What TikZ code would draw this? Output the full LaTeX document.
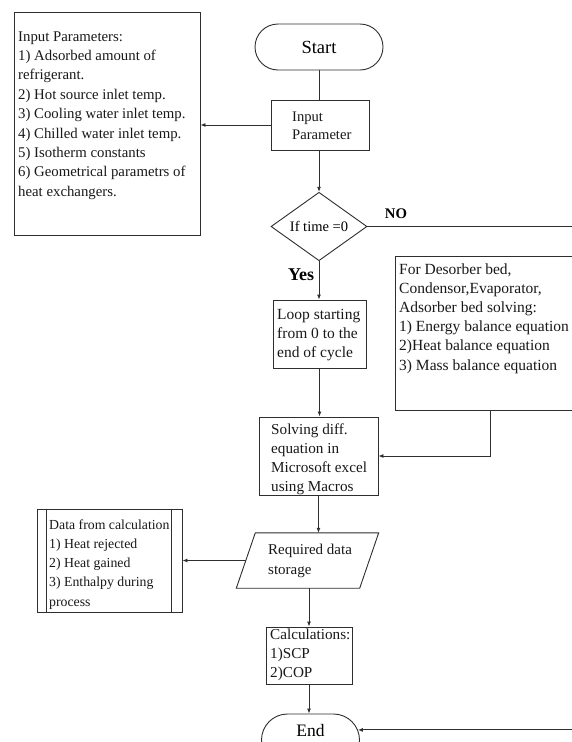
\documentclass[tikz,border=0pt]{standalone}
\usepackage{fontspec}
\setmainfont{Liberation Serif}
\usetikzlibrary{arrows.meta,shapes.geometric,shapes.misc,calc}
\newcommand{\mylines}[2]{\parbox[t]{#1}{\raggedright #2}}
\definecolor{linec}{gray}{0.18}
\begin{document}
\begin{tikzpicture}[x=1pt,y=-1pt,
  box/.style={draw=linec, line width=0.9pt, rectangle, inner sep=0pt},
  term/.style={draw=linec, line width=0.9pt, rounded rectangle, inner sep=0pt},
  txt/.style={inner sep=0pt, anchor=base west, text=black!90},
  arr/.style={draw=linec, line width=0.9pt, -{Latex[length=5pt,width=4pt]}},
  ln/.style={draw=linec, line width=0.9pt}]
\useasboundingbox (0,0) rectangle (572,742);
\fill[white] (0,0) rectangle (572,742);
\clip (0,0) rectangle (572,742);

% shapes
\node[box, minimum width=186pt, minimum height=223pt] (params) at (107,123.5) {};
\node[term, minimum width=128pt, minimum height=46pt, font=\fontsize{18.5}{22}\selectfont] (start) at (319,47) {Start};
\node[box, minimum width=98pt, minimum height=50pt] (inp) at (320,125) {};
\node[draw=linec, line width=0.9pt, diamond, inner sep=0pt, minimum width=96pt, minimum height=65pt, font=\fontsize{14.5}{17}\selectfont] (dia) at (319,226.5) {If time =0};
\node[box, minimum width=93pt, minimum height=68pt] (loop) at (319.5,334) {};
\node[box, minimum width=119pt, minimum height=78pt] (solve) at (318.5,456) {};
\node[box, minimum width=205pt, minimum height=154pt] (desorb) at (497.5,333) {};
\node[inner sep=0pt, minimum width=123pt, minimum height=55pt] (par) at (307.5,560.5) {};
\draw[ln] ($(par.north west)+(9.5,0)$) -- ($(par.north east)+(9.5,0)$) -- ($(par.south east)+(-9.5,0)$) -- ($(par.south west)+(-9.5,0)$) -- cycle;
\node[box, minimum width=145pt, minimum height=103pt] (data) at (109.5,560.5) {};
\draw[ln] ($(data.north west)+(10,0)$) -- ($(data.south west)+(10,0)$);
\draw[ln] ($(data.north east)+(-11,0)$) -- ($(data.south east)+(-11,0)$);
\node[box, minimum width=86pt, minimum height=57pt] (calc) at (309,655.5) {};
\node[term, minimum width=98pt, minimum height=52pt, font=\fontsize{17.5}{21}\selectfont] (endn) at (310.5,740) {\raisebox{4pt}[0pt][0pt]{End}};

% texts
\node[txt, font=\fontsize{14.8}{19.4}\selectfont] (paramsT) at (18,41) {\mylines{200pt}{Input Parameters:\\1) Adsorbed amount of\\refrigerant.\\2) Hot source inlet temp.\\3) Cooling water inlet temp.\\4) Chilled water inlet temp.\\5) Isotherm constants\\6) Geometrical parametrs of\\heat exchangers.}};
\node[txt, font=\fontsize{14.6}{18}\selectfont] (inpT) at (292,121) {\mylines{100pt}{Input\\Parameter}};
\node[inner sep=0pt, font=\bfseries\fontsize{14.7}{17}\selectfont] (noT) at (396,213.5) {NO};
\node[inner sep=0pt, font=\bfseries\fontsize{18}{21}\selectfont] (yesT) at (301,275) {Yes};
\node[txt, font=\fontsize{15.5}{19.2}\selectfont] (desorbT) at (399,274) {\mylines{220pt}{For Desorber bed,\\Condensor,Evaporator,\\Adsorber bed solving:\\1) Energy balance equation\\2)Heat balance equation\\3) Mass balance equation}};
\node[txt, font=\fontsize{15.5}{19}\selectfont] (loopT) at (277,319) {\mylines{120pt}{Loop starting\\from 0 to the\\end of cycle}};
\node[txt, font=\fontsize{15.2}{19}\selectfont] (solveT) at (271,434) {\mylines{140pt}{Solving diff.\\equation in\\Microsoft excel\\using Macros}};
\node[txt, font=\fontsize{15}{20}\selectfont] (parT) at (268,554) {\mylines{120pt}{Required data\\storage}};
\node[txt, font=\fontsize{13.8}{19.25}\selectfont] (dataT) at (49,529) {\mylines{140pt}{Data from calculation\\1) Heat rejected\\2) Heat gained\\3) Enthalpy during\\process}};
\node[txt, font=\fontsize{15.2}{19}\selectfont] (calcT) at (270,639) {\mylines{100pt}{Calculations:\\1)SCP\\2)COP}};

% connectors
\draw[ln] (start.south) -- (start.south |- inp.north);
\draw[arr] (inp.west) -- (inp.west -| params.east);
\draw[arr] (dia.north |- inp.south) -- (dia.north);
\draw[arr] (dia.south) -- (dia.south |- loop.north);
\draw[arr] (loop.south) -- (loop.south |- solve.north);
\coordinate (desOut) at (490,410);
\draw[arr] (desOut) |- (solve.east);
\draw[arr] (solve.south) -- (solve.south |- par.north);
\draw[arr] (par.west) -- (data.east);
\draw[arr] (calc.north |- par.south) -- (calc.north);
\draw[arr] (calc.south) -- (calc.south |- endn.north);
\coordinate (farR) at (600,226.5);
\draw[arr] (dia.east) -- (farR) |- (endn.12);
\end{tikzpicture}
\end{document}
